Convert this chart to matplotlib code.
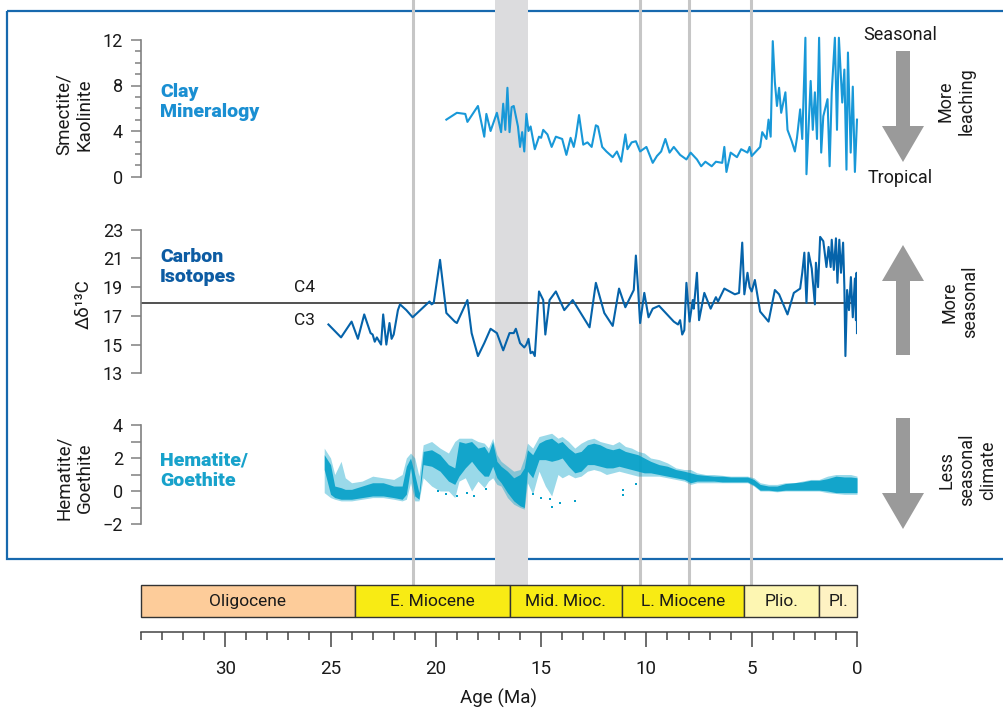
import matplotlib.pyplot as plt
from matplotlib.patches import FancyArrow, Rectangle
from matplotlib.ticker import MultipleLocator

plt.rcParams['font.family'] = ['Roboto', 'DejaVu Sans']

W, H = 1004, 712

# clay mineralogy (smectite / kaolinite)
clay_age = [19.5, 19.0, 18.6, 18.5, 18.0, 17.7, 17.6, 17.4, 17.1, 16.9, 16.8, 16.7, 16.6, 16.5,
            16.4, 16.3, 16.1, 16.0, 15.9, 15.8, 15.7, 15.6, 15.5, 15.3, 15.1, 15.0, 14.9, 14.7,
            14.5, 14.3, 14.0, 13.8, 13.6, 13.45, 13.35, 13.2, 13.0, 12.8, 12.6, 12.4, 12.3, 12.1,
            11.9, 11.6, 11.4, 11.2, 11.0, 10.9, 10.7, 10.5, 10.3, 10.0, 9.7, 9.5, 9.3, 9.1, 8.9,
            8.7, 8.4, 8.1, 7.9, 7.6, 7.4, 7.2, 6.9, 6.7, 6.4, 6.3, 6.2, 6.0, 5.7, 5.5, 5.2, 5.1,
            5.0, 4.8, 4.6, 4.5, 4.3, 4.2, 4.1, 4.0, 3.9, 3.8, 3.7, 3.6, 3.4, 3.3, 3.1, 2.95, 2.85,
            2.7, 2.6, 2.45, 2.4, 2.2, 2.1, 2.0, 1.9, 1.8, 1.7, 1.6, 1.4, 1.3, 1.2, 1.05, 0.95,
            0.86, 0.7, 0.6, 0.5, 0.43, 0.3, 0.2, 0.1, 0.0]
clay_val = [5.0, 5.6, 5.5, 4.8, 6.2, 3.5, 5.5, 4.0, 5.6, 3.9, 6.4, 4.1, 7.8, 3.9,
            6.1, 6.2, 4.4, 2.6, 3.9, 2.2, 5.5, 4.0, 4.4, 2.4, 3.5, 3.4, 4.1, 3.7,
            2.6, 3.5, 3.3, 1.9, 3.4, 2.6, 3.5, 5.4, 2.8, 3.0, 2.6, 4.5, 4.4, 2.6,
            2.2, 1.7, 2.2, 1.3, 3.7, 2.4, 3.0, 3.1, 2.2, 2.6, 1.2, 1.8, 2.2, 3.3, 2.1,
            2.6, 1.9, 1.5, 2.1, 1.5, 0.9, 1.3, 0.9, 1.3, 1.2, 2.6, 0.4, 2.1, 1.7, 2.4, 2.1, 2.6,
            1.8, 2.2, 2.6, 3.9, 3.3, 5.0, 3.5, 11.9, 8.3, 6.2, 7.8, 5.6, 7.4, 4.1, 3.1, 2.2, 3.4,
            5.9, 3.3, 12.2, 0.2, 8.4, 4.1, 7.4, 3.3, 12.2, 2.1, 5.3, 6.8, 0.9, 7.4, 12.2, 4.1,
            12.2, 6.5, 9.4, 0.6, 10.9, 2.1, 7.9, 0.4, 5.0]

# carbon isotopes (delta delta 13C)
carb_age = [25.1, 24.5, 24.0, 23.7, 23.4, 23.1, 23.0, 22.9, 22.8, 22.6, 22.5, 22.35, 22.2, 22.1,
            22.0, 21.8, 21.7, 21.4, 21.1, 20.3, 20.2, 20.1, 19.8, 19.5, 19.1, 19.0, 18.5, 18.3,
            18.0, 17.7, 17.4, 17.1, 16.8, 16.5, 16.3, 16.2, 16.0, 15.8, 15.7, 15.6, 15.5, 15.4,
            15.3, 15.1, 14.9, 14.8, 14.6, 14.3, 13.9, 13.5, 12.7, 12.4, 12.0, 11.6, 11.3, 11.0,
            10.6, 10.5, 10.4, 10.3, 10.1, 9.9, 9.7, 9.4, 8.7, 8.5, 8.4, 8.3, 8.2, 8.1, 7.95, 7.8,
            7.75, 7.6, 7.5, 7.25, 6.95, 6.7, 6.6, 6.3, 6.05, 5.8, 5.6, 5.45, 5.35, 5.2, 5.1, 5.0,
            4.85, 4.6, 4.2, 3.9, 3.7, 3.3, 3.0, 2.7, 2.6, 2.5, 2.4, 2.3, 2.15, 2.0, 1.95, 1.85,
            1.75, 1.6, 1.45, 1.35, 1.25, 1.2, 1.1, 1.0, 0.93, 0.84, 0.76, 0.66, 0.6, 0.55, 0.47,
            0.38, 0.29, 0.2, 0.1, 0.05, 0.02, 0.0]
carb_val = [16.4, 15.5, 16.6, 15.4, 17.1, 15.8, 15.7, 15.2, 15.5, 15.0, 17.1, 15.0, 16.5, 15.4,
            15.7, 17.4, 17.8, 17.4, 16.9, 18.0, 17.8, 17.9, 20.9, 17.2, 16.6, 16.5, 18.1, 15.8,
            14.2, 15.1, 16.1, 15.8, 14.6, 15.8, 15.8, 16.1, 15.1, 14.8, 15.0, 15.4, 14.4, 14.5,
            14.2, 18.7, 18.1, 15.7, 18.1, 18.7, 17.4, 18.1, 16.2, 19.3, 17.2, 16.3, 18.9, 17.6,
            18.8, 21.2, 19.0, 16.5, 18.6, 16.9, 17.5, 17.7, 16.6, 16.4, 16.7, 15.7, 16.0, 19.3, 16.6, 18.1,
            17.5, 20.0, 16.7, 18.6, 17.5, 18.3, 18.0, 18.9, 18.7, 18.5, 18.6, 22.1, 18.5, 20.0, 19.0, 18.7,
            19.5, 17.3, 16.6, 18.8, 18.5, 17.1, 18.6, 18.9, 20.0, 21.4, 17.9, 21.4, 20.3, 17.8, 20.7, 19.0,
            22.5, 22.2, 20.4, 21.8, 20.4, 22.3, 20.2, 22.4, 19.3, 22.3, 20.0, 22.1, 19.0, 14.2, 18.8,
            17.4, 19.7, 16.9, 19.6, 16.7, 20.0, 15.8]
c4_c3_line = 17.9

# hematite / goethite: outer spread and dense core of the point cloud
hem_age = [25.3, 25.0, 24.8, 24.5, 24.3, 24.0, 23.5, 23.0, 22.5, 22.0, 21.6, 21.4, 21.2, 21.0,
           20.8, 20.6, 20.2, 19.8, 19.4, 19.1, 18.9, 18.6, 18.3, 18.0, 17.7, 17.5, 17.3, 17.1,
           16.9, 16.6, 16.3, 16.0, 15.8, 15.65, 15.4, 15.1, 14.8, 14.5, 14.2, 14.0, 13.7, 13.4,
           13.1, 12.8, 12.5, 12.2, 11.9, 11.6, 11.3, 11.0, 10.7, 10.4, 10.1, 9.8, 9.4, 9.0, 8.6,
           8.2, 7.9, 7.6, 7.2, 6.8, 6.4, 6.0, 5.6, 5.2, 4.9, 4.6, 4.2, 3.8, 3.4, 3.0, 2.6, 2.2,
           1.8, 1.4, 1.0, 0.6, 0.3, 0.0]
hem_hi = [2.6, 2.0, 1.0, 1.8, 0.8, 0.5, 0.6, 0.9, 0.8, 0.7, 1.0, 2.0, 2.3, 2.0,
          0.9, 2.8, 3.0, 2.6, 2.3, 3.0, 3.2, 3.2, 3.2, 3.0, 2.9, 2.6, 3.2, 2.2,
          1.8, 1.5, 1.2, 1.3, 2.0, 2.9, 2.6, 3.3, 3.4, 3.5, 3.2, 3.3, 3.0, 2.6,
          2.9, 3.1, 3.2, 3.0, 2.9, 2.8, 3.0, 2.7, 2.6, 2.4, 2.3, 2.0, 1.9, 1.7, 1.4,
          1.3, 1.3, 1.1, 1.0, 1.0, 0.95, 0.9, 0.9, 0.9, 0.8, 0.5, 0.4, 0.4, 0.5, 0.5, 0.6, 0.7,
          0.7, 0.9, 1.0, 1.0, 1.0, 0.9]
hem_lo = [-0.1, -0.4, -0.5, -0.6, -0.6, -0.6, -0.5, -0.4, -0.4, -0.5, -0.6, -0.5, 0.5, -0.6,
          -0.6, 0.8, 0.3, 0.0, 0.0, -0.4, 0.6, 0.8, 0.0, 0.6, 0.2, 0.6, 0.8, 0.4,
          0.3, -0.4, -0.8, -1.0, -1.1, 0.5, -0.2, 1.2, 0.3, -0.3, 1.0, 0.8, 1.0, 0.8,
          0.9, 1.2, 1.3, 1.2, 1.0, 1.1, 1.2, 1.1, 1.0, 0.9, 0.9, 0.9, 0.9, 0.8, 0.7,
          0.6, 0.4, 0.5, 0.5, 0.5, 0.5, 0.5, 0.5, 0.5, 0.3, 0.0, 0.0, -0.05, 0.0, 0.0, 0.0, 0.0,
          0.0, -0.1, -0.15, -0.2, -0.2, -0.2]
hem_core_hi = [2.2, 1.6, 0.3, 0.2, 0.1, 0.1, 0.3, 0.5, 0.5, 0.3, 0.3, 1.5, 2.0, 1.0,
               -0.1, 2.4, 2.5, 2.2, 1.6, 1.4, 3.0, 2.9, 3.0, 2.6, 2.7, 2.3, 3.0, 1.8,
               1.5, 1.2, 0.8, 1.0, 1.4, 2.5, 2.2, 2.9, 3.1, 3.2, 2.9, 3.0, 2.6, 2.3,
               2.4, 2.8, 2.9, 2.8, 2.6, 2.5, 2.6, 2.4, 2.3, 2.2, 2.0, 1.8, 1.6, 1.5, 1.3,
               1.2, 1.1, 1.0, 0.95, 0.9, 0.9, 0.85, 0.85, 0.85, 0.7, 0.4, 0.3, 0.3, 0.45, 0.5, 0.55, 0.65,
               0.65, 0.75, 0.9, 0.85, 0.85, 0.8]
hem_core_lo = [1.3, -0.2, -0.4, -0.5, -0.5, -0.5, -0.4, -0.3, -0.3, -0.4, -0.5, -0.2, 1.4, -0.3,
               -0.5, 1.6, 1.5, 1.2, 0.6, 0.4, 0.9, 1.4, 1.8, 1.3, 0.9, 0.9, 1.5, 0.8,
               0.5, -0.1, -0.6, -0.9, -1.0, 1.2, 0.8, 1.9, 1.9, 1.8, 1.9, 2.0, 1.5, 1.1,
               1.2, 1.6, 1.6, 1.5, 1.4, 1.4, 1.5, 1.4, 1.3, 1.2, 1.1, 1.1, 1.0, 0.9, 0.8,
               0.7, 0.5, 0.6, 0.6, 0.6, 0.55, 0.55, 0.55, 0.55, 0.35, 0.05, 0.05, 0.0, 0.05, 0.05, 0.05, 0.05,
               0.05, 0.0, -0.1, -0.1, -0.1, -0.1]
hem_dot_age = [19.9, 19.5, 19.0, 18.5, 18.2, 17.6, 15.4, 15.0, 14.6, 14.5, 14.1, 13.4, 11.1, 11.1, 10.5]
hem_dot_val = [0.0, -0.2, -0.3, -0.1, -0.3, 0.1, -0.2, -0.4, -0.5, -0.95, -0.7, -0.6, 0.06, -0.24, 0.45]

# events and epochs
event_ages = [21.1, 10.3, 8.0, 5.05]
event_band = (15.6, 17.2)
epoch_names = ['Oligocene', 'E. Miocene', 'Mid. Mioc.', 'L. Miocene', 'Plio.', 'Pl.']
epoch_bounds = [34.0, 23.85, 16.5, 11.15, 5.35, 1.8, 0.0]
epoch_colors = ['#fdcc9a', '#f8eb14', '#f8eb14', '#f8eb14', '#fdf6b2', '#fef2c3']

clay_color = '#1898d8'
carb_color = '#0563aa'
hem_color = '#04a0c8'
text_color = '#1a1a1a'


def rect(left, top, right, bottom):
    return [left / W, 1 - bottom / H, (right - left) / W, (bottom - top) / H]


fig = plt.figure(figsize=(W / 100, H / 100), dpi=100)

# overlay in pixel coordinates for frame, arrows and annotations
over = fig.add_axes([0, 0, 1, 1])
over.set_xlim(0, W)
over.set_ylim(H, 0)
over.axis('off')
over.add_patch(Rectangle((7, 11), 1010, 548, fill=False, ec='#1769ae', lw=1.6, clip_on=False))

# gray event lines behind the panels
bg = fig.add_axes(rect(141, 0, 857, 585))
bg.set_xlim(34, 0)
bg.set_ylim(0, 1)
bg.axis('off')
bg.axvspan(event_band[0], event_band[1], color='#dcdcde', lw=0)
for a in event_ages:
    bg.axvline(a, color='#c6c6c6', lw=2.2)


def panel(top, bottom, lo, hi):
    ax = fig.add_axes(rect(141, top, 857, bottom))
    ax.patch.set_visible(False)
    ax.set_xlim(34, 0)
    ax.set_ylim(lo, hi)
    for s in ['top', 'right', 'bottom']:
        ax.spines[s].set_visible(False)
    ax.spines['left'].set_color('#808080')
    ax.spines['left'].set_linewidth(1.2)
    ax.set_xticks([])
    ax.tick_params(axis='y', which='both', color='#808080', labelsize=13, labelcolor=text_color,
                   length=7, width=1.1, pad=6)
    return ax


ax1 = panel(40, 176.5, 0, 12)
ax1.set_yticks([0, 4, 8, 12])
ax1.yaxis.set_minor_locator(MultipleLocator(1))
ax1.tick_params(axis='y', which='minor', length=4.5)
ax1.plot(clay_age, clay_val, color=clay_color, lw=1.5, clip_on=False)
ax1.set_ylabel('Smectite/\nKaolinite', fontsize=13.5, color=text_color)
ax1.yaxis.set_label_coords(-0.066, 0.455)

ax2 = panel(229.7, 373.3, 13, 23)
ax2.set_yticks(range(13, 24, 2))
ax2.axhline(c4_c3_line, color='#222222', lw=1.1)
ax2.plot(carb_age, carb_val, color=carb_color, lw=1.5)
ax2.text(26.25, 19.0, 'C4', ha='center', va='center', fontsize=12.5, color=text_color)
ax2.text(26.25, 16.65, 'C3', ha='center', va='center', fontsize=12.5, color=text_color)
ax2.set_ylabel('Δδ¹³C', fontsize=13.5, color=text_color)
ax2.yaxis.set_label_coords(-0.068, 0.483)

ax3 = panel(425, 524, -2, 4)
ax3.set_yticks([-2, 0, 2, 4])
ax3.yaxis.set_minor_locator(MultipleLocator(1))
ax3.fill_between(hem_age, hem_lo, hem_hi, color=hem_color, alpha=0.4, lw=0)
ax3.fill_between(hem_age, hem_core_lo, hem_core_hi, color=hem_color, alpha=0.9, lw=0)
ax3.scatter(hem_dot_age, hem_dot_val, s=3, marker='s', color=hem_color, lw=0)
ax3.set_ylabel('Hematite/\nGoethite', fontsize=13.5, color=text_color)
ax3.yaxis.set_label_coords(-0.066, 0.465)

# panel titles
over.text(160, 102, 'Clay\nMineralogy', ha='left', va='center', fontsize=14,
          fontweight='heavy', color='#1a8fd2')
over.text(160, 267, 'Carbon\nIsotopes', ha='left', va='center', fontsize=14,
          fontweight='heavy', color='#0d5ca3')
over.text(160, 471, 'Hematite/\nGoethite', ha='left', va='center', fontsize=14,
          fontweight='heavy', color='#18a2cb')

# right-hand arrows and notes
arrow_kw = dict(width=14, head_width=42, head_length=36, length_includes_head=True,
                color='#9a9a9a', lw=0)
over.add_patch(FancyArrow(903, 51, 0, 111, **arrow_kw))
over.add_patch(FancyArrow(903, 355, 0, -110, **arrow_kw))
over.add_patch(FancyArrow(903, 418, 0, 111, **arrow_kw))
over.text(900, 35, 'Seasonal', ha='center', va='center', fontsize=13, color=text_color)
over.text(900, 178, 'Tropical', ha='center', va='center', fontsize=13, color=text_color)
over.text(956, 101, 'More\nleaching', rotation=90, ha='center', va='center', fontsize=13,
          color=text_color, multialignment='center')
over.text(960, 302, 'More\nseasonal', rotation=90, ha='center', va='center', fontsize=13,
          color=text_color, multialignment='center')
over.text(967, 470, 'Less\nseasonal\nclimate', rotation=90, ha='center', va='center', fontsize=13,
          color=text_color, multialignment='center')

# epoch bar
ep = fig.add_axes(rect(141, 585, 857, 617))
ep.set_xlim(34, 0)
ep.set_ylim(0, 1)
ep.axis('off')
for name, a0, a1, c in zip(epoch_names, epoch_bounds[:-1], epoch_bounds[1:], epoch_colors):
    span = ep.axvspan(a0, a1, facecolor=c, edgecolor='#333333', lw=1.0)
    span.set_clip_on(False)
    ep.text((a0 + a1) / 2, 0.48, name, ha='center', va='center', fontsize=12.5, color=text_color)

# age axis
axx = fig.add_axes(rect(141, 631.5, 857, 632))
axx.patch.set_visible(False)
axx.set_xlim(34, 0)
axx.set_yticks([])
for s in ['top', 'left', 'right']:
    axx.spines[s].set_visible(False)
axx.spines['bottom'].set_color('#444444')
axx.spines['bottom'].set_linewidth(1.1)
axx.set_xticks(range(0, 31, 5))
axx.xaxis.set_minor_locator(MultipleLocator(1))
axx.tick_params(axis='x', which='major', length=11, width=1.1, color='#444444',
                labelsize=13.5, labelcolor=text_color, pad=9)
axx.tick_params(axis='x', which='minor', length=6, width=1.1, color='#444444')
axx.set_xlabel('Age (Ma)', fontsize=13.5, color=text_color, labelpad=8)

fig.savefig('out.png', dpi=100)
